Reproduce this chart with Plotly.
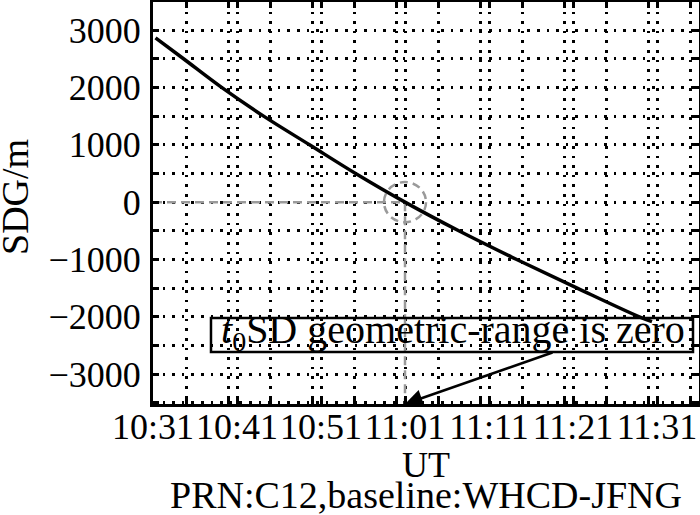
import pandas as pd
import plotly.graph_objects as go

# Data
DAY = "2013-01-01 "
times = ["10:31:18", "10:34:38", "10:39:10", "10:44:10", "10:49:38", "10:55:07",
         "11:01:00", "11:07:24", "11:14:18", "11:21:30", "11:28:54", "11:30:24"]
sdg = [2865, 2500, 2000, 1500, 1000, 500, 0, -500, -1000, -1500, -2000, -2082]

t0 = "11:01:00"          # moment the SD geometric range is zero
x_range = ["10:31", "11:36"]
y_range = [-3520, 3490]
y_ticks = [-3000, -2000, -1000, 0, 1000, 2000, 3000]

FONT = "Liberation Serif"
GRAY = "#9a9a9a"
DOTS = "2.6px,7px"

x = [pd.Timestamp(DAY + t) for t in times]
t0_ts = pd.Timestamp(DAY + t0)
xr = [pd.Timestamp(DAY + t) for t in x_range]

fig = go.Figure(go.Scatter(
    x=x, y=sdg, mode="lines",
    line=dict(color="black", width=3.5, shape="spline"),
    showlegend=False,
))

grid = dict(
    showgrid=True, gridcolor="black", gridwidth=2.5, griddash=DOTS,
    showline=True, linecolor="black", linewidth=3, mirror="allticks",
    ticks="inside", ticklen=6, tickwidth=2.5, tickcolor="black",
    zeroline=False, automargin=False,
)
minor = dict(showgrid=True, gridcolor="black", gridwidth=2.5, griddash=DOTS,
             ticks="inside", ticklen=6, tickwidth=2.5, tickcolor="black")

fig.update_xaxes(
    type="date", range=xr, tickformat="%H:%M", tickangle=0,
    tick0=DAY + "10:31", dtick=600000,
    minor=dict(dtick=300000, **minor),
    tickfont=dict(family=FONT, size=36, color="black"),
    ticklabelstandoff=-11,
    **grid,
)
fig.update_yaxes(
    range=y_range, tickvals=y_ticks,
    minor=dict(dtick=500, tick0=0, **minor),
    tickfont=dict(family=FONT, size=36, color="black"),
    ticklabelstandoff=2,
    **grid,
)

# gray dashed guides at the zero crossing
fig.add_shape(type="line", xref="x", yref="y", x0=xr[0], x1=t0_ts, y0=0, y1=0,
              line=dict(color=GRAY, width=2.5, dash="9px,5px"), layer="between")
fig.add_shape(type="line", xref="x", yref="y", x0=t0_ts, x1=t0_ts, y0=0, y1=y_range[0],
              line=dict(color=GRAY, width=2.5, dash="9px,5px"), layer="between")
fig.add_shape(type="circle", xref="x", yref="y",
              x0=t0_ts - pd.Timedelta(minutes=2.5), x1=t0_ts + pd.Timedelta(minutes=2.5),
              y0=-350, y1=350,
              line=dict(color=GRAY, width=2.5, dash="8px,5px"), layer="between")

# label box
fig.add_shape(type="rect", xref="paper", yref="paper",
              x0=0.1062, x1=0.989, y0=0.1294, y1=0.2139,
              line=dict(color="black", width=2.5), layer="above")
fig.add_annotation(
    xref="paper", yref="paper", x=0.5495, y=0.2363, xanchor="center", yanchor="top",
    yshift=4,
    text="<i>t</i><sub>0</sub>SD geometric-range is zero", showarrow=False,
    font=dict(family=FONT, size=40, color="black"),
)
# arrow pointing to t0 on the time axis
fig.add_annotation(
    x=t0_ts, y=y_range[0], xref="x", yref="y", text="",
    showarrow=True, ax=149, ay=-52, arrowhead=2, arrowsize=1.4,
    arrowwidth=2.5, arrowcolor="black", standoff=0,
)

# axis titles and caption
fig.add_annotation(
    xref="paper", yref="paper", x=0, y=0.515, xanchor="left", yanchor="middle",
    xshift=-161, textangle=-90,
    text="SDG/m", showarrow=False, font=dict(family=FONT, size=38, color="black"),
)
fig.add_annotation(
    xref="paper", yref="paper", x=0.5, y=0, yanchor="top", yshift=-39,
    text="UT", showarrow=False, font=dict(family=FONT, size=36, color="black"),
)
fig.add_annotation(
    xref="paper", yref="paper", x=0.5, y=0, yanchor="top", yshift=-68,
    text="PRN:C12,baseline:WHCD-JFNG", showarrow=False,
    font=dict(family=FONT, size=38, color="black"),
)

fig.update_layout(
    width=700, height=515,
    margin=dict(l=153, r=1, t=2, b=111),
    plot_bgcolor="white", paper_bgcolor="white",
    font=dict(family=FONT, color="black"),
)

fig.write_html("out.html", config={"displayModeBar": False},
               post_script="document.body.style.margin='0';")
